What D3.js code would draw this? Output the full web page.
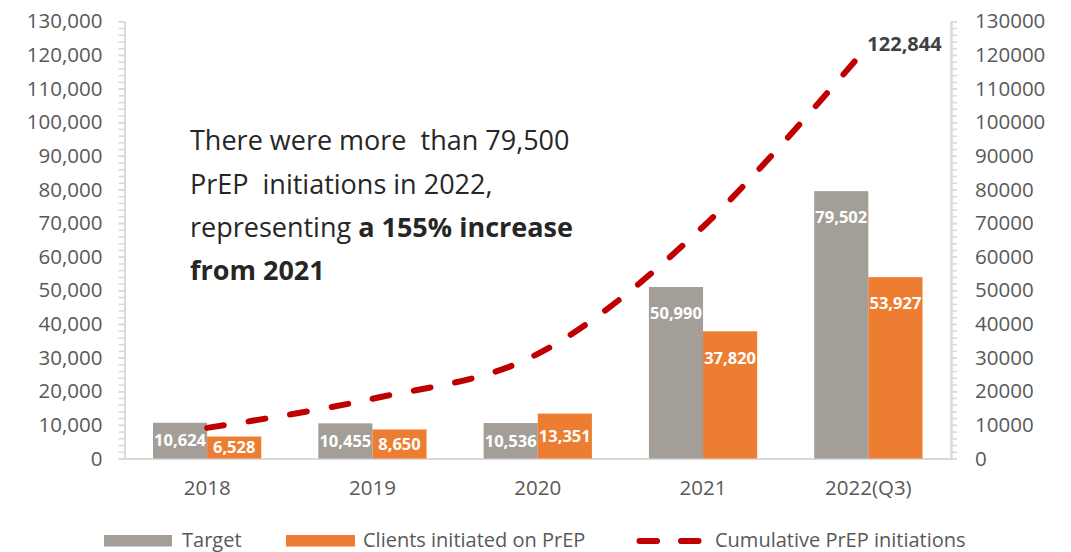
<!DOCTYPE html>
<html>
<head>
<meta charset="utf-8">
<script src="https://cdn.jsdelivr.net/npm/d3@7"></script>
<style>
  html, body { margin: 0; padding: 0; background: #ffffff; }
  svg { display: block; }
  text { font-family: "Open Sans", "Noto Sans", sans-serif; }
  .note { white-space: pre; }
</style>
</head>
<body>
<svg id="chart" width="1071" height="552"></svg>
<script>
// PrEP initiations by year
const years = ["2018", "2019", "2020", "2021", "2022(Q3)"];
const target = [10624, 10455, 10536, 50990, 79502];
const clients = [6528, 8650, 13351, 37820, 53927];
const cumulative = [9096, 17746, 31097, 68917, 122844];
const yTicks = [0, 10000, 20000, 30000, 40000, 50000, 60000, 70000, 80000, 90000, 100000, 110000, 120000, 130000];
const seriesNames = ["Target", "Clients initiated on PrEP", "Cumulative PrEP initiations"];

const colors = { target: "#A39F98", clients: "#ED7D31", line: "#C00000", axis: "#D9D9D9", tick: "#595959", note: "#262626" };

const svg = d3.select("#chart");
const plotLeft = 124.5, plotRight = 951, plotTop = 21.3, plotBottom = 458.5;

const x0 = d3.scaleBand().domain(years).range([plotLeft, plotRight]).paddingInner(0.345).paddingOuter(0.1725);
const x1 = d3.scaleBand().domain(["target", "clients"]).range([0, x0.bandwidth()]).padding(0);
const y = d3.scaleLinear().domain([0, 130000]).range([plotBottom, plotTop]);

// Axes: minor ticks every 2,000, labelled major ticks every 10,000
function styleAxis(g) {
  g.selectAll("path.domain").attr("stroke", colors.axis).attr("stroke-width", 2);
  g.selectAll(".tick line").attr("stroke", colors.axis).attr("stroke-width", 1.5);
  g.selectAll(".tick text").attr("fill", colors.tick).style("font-size", "20.5px")
    .style("font-family", "'Open Sans', sans-serif");
}
const minorVals = d3.range(0, 130001, 2000);

svg.append("g").attr("transform", `translate(${plotLeft},0)`)
  .call(d3.axisLeft(y).tickValues(minorVals).tickSize(6).tickSizeOuter(0).tickFormat(""))
  .call(styleAxis);
svg.append("g").attr("transform", `translate(${plotLeft},0)`)
  .call(d3.axisLeft(y).tickValues(yTicks).tickSize(6).tickSizeOuter(0).tickPadding(16).tickFormat(d3.format(",")))
  .call(styleAxis);

svg.append("g").attr("transform", `translate(${plotRight},0)`)
  .call(d3.axisRight(y).tickValues(minorVals).tickSize(6).tickSizeOuter(0).tickFormat(""))
  .call(styleAxis);
svg.append("g").attr("transform", `translate(${plotRight},0)`)
  .call(d3.axisRight(y).tickValues(yTicks).tickSize(6).tickSizeOuter(0).tickPadding(18).tickFormat(d3.format("d")))
  .call(styleAxis);

// Category axis
const xAxis = svg.append("g").attr("transform", `translate(0,${plotBottom})`)
  .call(d3.axisBottom(x0).tickSize(0).tickSizeOuter(0).tickPadding(22));
xAxis.select("path.domain").attr("stroke", colors.axis).attr("stroke-width", 2);
xAxis.selectAll(".tick text").attr("fill", colors.tick).style("font-size", "20.5px")
  .style("font-family", "'Open Sans', sans-serif");

// Bars
const rows = years.map((yr, i) => ({ year: yr, target: target[i], clients: clients[i] }));
const groups = svg.append("g").selectAll("g").data(rows).join("g")
  .attr("transform", d => `translate(${x0(d.year)},0)`);

const barData = d => [
  { key: "target", value: d.target },
  { key: "clients", value: d.clients }
];
groups.selectAll("rect").data(barData).join("rect")
  .attr("x", d => x1(d.key))
  .attr("y", d => y(d.value))
  .attr("width", x1.bandwidth())
  .attr("height", d => y(0) - y(d.value))
  .attr("fill", d => colors[d.key]);

groups.selectAll("text").data(barData).join("text")
  .attr("x", d => x1(d.key) + x1.bandwidth() / 2)
  .attr("y", d => Math.min(y(d.value) + 26.5, (y(d.value) + y(0)) / 2))
  .attr("dy", "0.35em")
  .attr("text-anchor", "middle")
  .attr("fill", "#ffffff")
  .style("font-weight", "700")
  .style("font-size", "16.5px")
  .text(d => d3.format(",")(d.value));

// Cumulative line
const cx = i => x0(years[i]) + x0.bandwidth() / 2;
const line = d3.line()
  .x((d, i) => cx(i))
  .y(d => y(d))
  .curve(d3.curveCardinal.tension(0));

svg.append("path")
  .datum(cumulative)
  .attr("d", line)
  .attr("fill", "none")
  .attr("stroke", colors.line)
  .attr("stroke-width", 6)
  .attr("stroke-linecap", "round")
  .attr("stroke-dasharray", "17 25");

const last = cumulative.length - 1;
svg.append("text")
  .attr("x", cx(last) - 1)
  .attr("y", y(cumulative[last]) + 6)
  .attr("fill", "#404040")
  .style("font-weight", "700")
  .style("font-size", "20px")
  .text(d3.format(",")(cumulative[last]));

// Callout text
const note = svg.append("text")
  .attr("class", "note")
  .attr("fill", colors.note)
  .style("font-size", "27px");
note.append("tspan").attr("x", 190).attr("y", 150).text("There were more  than 79,500");
note.append("tspan").attr("x", 190).attr("y", 194).text("PrEP  initiations in 2022,");
const l3 = note.append("tspan").attr("x", 190).attr("y", 237);
l3.append("tspan").text("representing ");
l3.append("tspan").style("font-weight", "700").text("a 155% increase");
note.append("tspan").attr("x", 190).attr("y", 280).style("font-weight", "700").text("from 2021");

// Legend
const legend = svg.append("g");
const legendBase = 546.5;
legend.append("rect").attr("x", 104).attr("y", 535).attr("width", 68).attr("height", 11.5).attr("fill", colors.target);
legend.append("text").attr("x", 182).attr("y", legendBase).attr("fill", colors.tick).style("font-size", "20px").text(seriesNames[0]);
legend.append("rect").attr("x", 286).attr("y", 535).attr("width", 69).attr("height", 11.5).attr("fill", colors.clients);
legend.append("text").attr("x", 363).attr("y", legendBase).attr("fill", colors.tick).style("font-size", "20px").text(seriesNames[1]);
legend.append("line").attr("x1", 639.5).attr("x2", 699).attr("y1", 541).attr("y2", 541)
  .attr("stroke", colors.line).attr("stroke-width", 6).attr("stroke-linecap", "round")
  .attr("stroke-dasharray", "17.5 24");
legend.append("text").attr("x", 715).attr("y", legendBase).attr("fill", colors.tick).style("font-size", "20px").text(seriesNames[2]);
</script>
</body>
</html>
